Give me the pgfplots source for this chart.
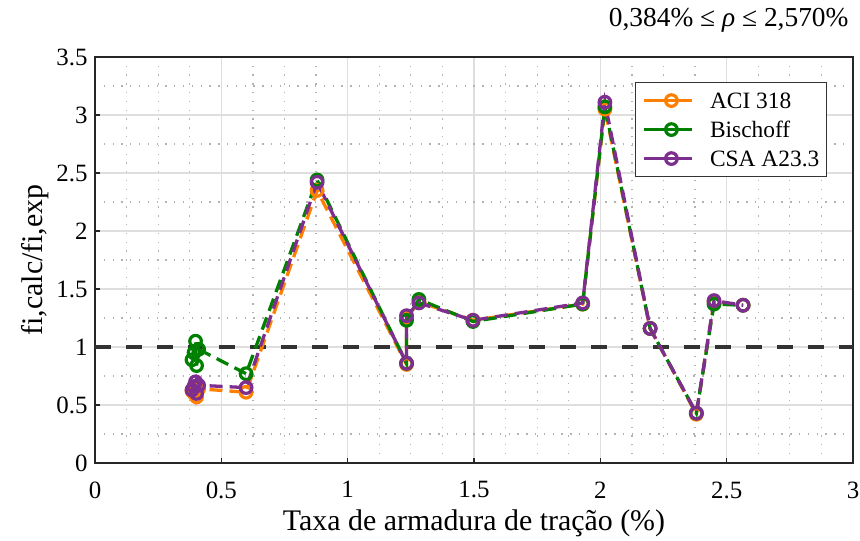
\documentclass[border=0pt]{standalone}
\usepackage{fontspec}
\setmainfont{Liberation Serif}
\usepackage{pgfplots}
\pgfplotsset{compat=1.18}
\definecolor{cA}{rgb}{1,0.5,0}
\definecolor{cB}{rgb}{0,0.5,0}
\definecolor{cC}{rgb}{0.49,0.18,0.56}
\begin{document}
\begin{tikzpicture}
\path[use as bounding box] (-95bp,-78bp) rectangle (765bp,463bp);
\begin{axis}[
  scale only axis, width=758bp, height=406bp,
  xmin=0, xmax=3, ymin=0, ymax=3.5,
  xtick={0,0.5,1,1.5,2,2.5,3},
  ytick={0,0.5,1,1.5,2,2.5,3,3.5},
  minor x tick num=3, minor y tick num=1,
  grid=both,
  major grid style={line width=1.5bp, color=black!13},
  minor grid style={line width=1.3bp, color=black!30, dash pattern=on 1.3bp off 7.5bp},
  axis line style={line width=2.2bp, color=black!85},
  tick align=inside, major tick length=5bp, minor tick length=0pt,
  tick style={line width=1.5bp, color=black!85},
  xtick pos=bottom, ytick pos=left,
  /pgf/number format/assume math mode=true,
  ticklabel style={font=\fontsize{25}{30}\selectfont},
  xticklabel style={yshift=-15bp},
  yticklabel style={xshift=-4bp},
  xlabel={Taxa de armadura de tração (\%)},
  ylabel={fi,calc/fi,exp},
  label style={font=\fontsize{30}{36}\selectfont},
  xlabel style={at={(axis description cs:0.5,0)}, anchor=base, yshift=-67bp},
  ylabel style={at={(axis description cs:0,0.5)}, anchor=base, yshift=52bp},
  title={0,384\% ≤ \textit{ρ} ≤ 2,570\%},
  title style={at={(axis description cs:1,1)}, anchor=base east, yshift=25bp, xshift=-1bp, font=\fontsize{27.5}{33}\selectfont},
  legend style={at={(axis description cs:0.9657,0.938)}, anchor=north east,
    draw=black!80, line width=1.3bp, fill=white,
    font=\fontsize{23.5}{28}\selectfont,
    inner xsep=7bp, inner ysep=8bp,
    nodes={inner xsep=0bp, inner ysep=0bp, text height=17.5bp, text depth=2bp},
    row sep=9.5bp, column sep=16bp},
  legend cell align=left,
  legend image code/.code={
    \draw[#1, solid, mark=none] (0bp,0bp) -- (48bp,0bp);
    \draw[#1, solid, only marks] plot coordinates {(27bp,0bp)};
  },
  every axis plot/.append style={line width=3.3bp, dash pattern=on 13bp off 7bp,
    mark=o, mark size=5.8bp, mark options={solid, line width=3.2bp}},
]
\addplot[forget plot, color=black!80, line width=3.6bp, dash pattern=on 16bp off 15bp, mark=none] coordinates {(0,1) (3,1)};
\addplot[color=cA] coordinates {
(0.384,0.62) (0.392,0.60) (0.398,0.66) (0.402,0.57) (0.410,0.64) (0.598,0.61) (0.879,2.35) (1.233,0.85) (1.233,1.25) (1.282,1.39) (1.496,1.23) (1.930,1.37) (2.018,3.05) (2.197,1.16) (2.380,0.42) (2.450,1.39) (2.565,1.36)};
\addlegendentry{ACI 318}
\addplot[color=cB] coordinates {
(0.384,0.89) (0.392,0.95) (0.398,1.05) (0.402,0.84) (0.410,0.98) (0.598,0.77) (0.879,2.44) (1.233,0.86) (1.233,1.23) (1.282,1.41) (1.496,1.22) (1.930,1.37) (2.018,3.07) (2.197,1.16) (2.380,0.43) (2.450,1.37) (2.565,1.36)};
\addlegendentry{Bischoff}
\addplot[color=cC] coordinates {
(0.384,0.63) (0.392,0.66) (0.398,0.70) (0.402,0.60) (0.410,0.67) (0.598,0.65) (0.879,2.42) (1.233,0.86) (1.233,1.27) (1.282,1.38) (1.496,1.23) (1.930,1.38) (2.018,3.11) (2.197,1.16) (2.380,0.43) (2.450,1.40) (2.565,1.36)};
\addlegendentry{CSA A23.3}
\end{axis}
\end{tikzpicture}
\end{document}
